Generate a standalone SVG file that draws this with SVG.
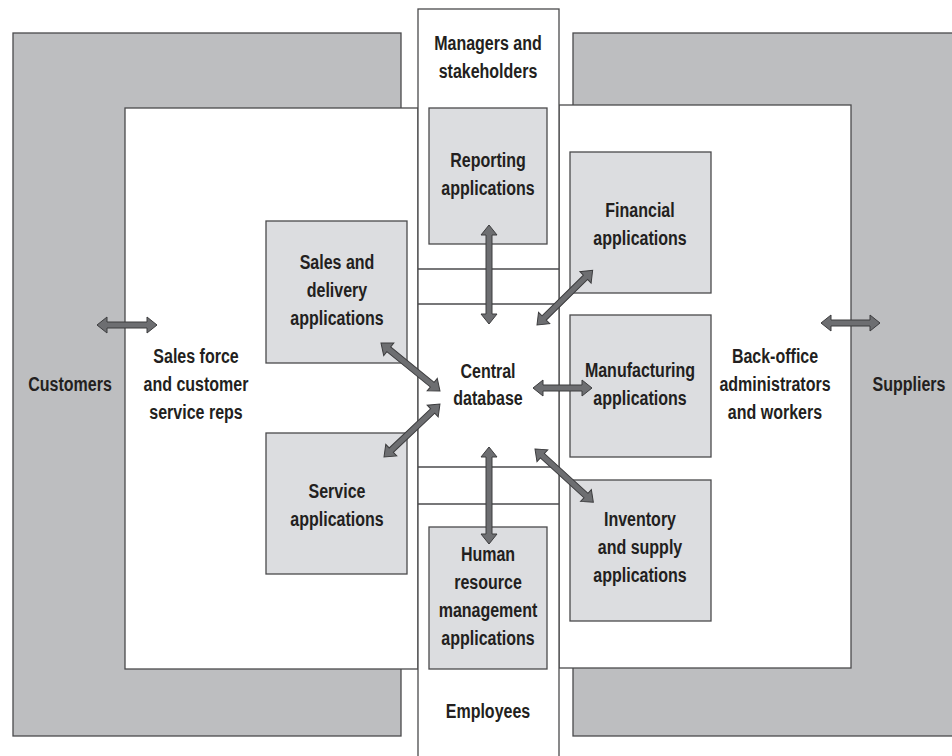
<svg xmlns="http://www.w3.org/2000/svg" width="952" height="756" viewBox="0 0 952 756">
<style>
.outer{fill:#bdbec0;stroke:#4a4a4c;stroke-width:1.3}
.zone{fill:#ffffff;stroke:#4a4a4c;stroke-width:1.3}
.app{fill:#dcdde0;stroke:#4a4a4c;stroke-width:1.3}
.sep{stroke:#4a4a4c;stroke-width:1.3;fill:none}
text{font-family:"Liberation Sans",Arial,sans-serif;font-weight:bold;font-size:20px;fill:#231f20;text-anchor:middle}
.arr{fill:#6d6e71;stroke:#3c3c3e;stroke-width:1;stroke-linejoin:miter}
</style>
<rect width="952" height="756" fill="#ffffff"/>
<g id="customers">
<rect class="outer" x="13" y="33" width="388" height="703"/>
<text transform="translate(70,391) scale(0.8,1)">Customers</text>
</g>
<g id="suppliers">
<rect class="outer" x="573" y="33" width="390" height="703"/>
<text transform="translate(909,391) scale(0.8,1)">Suppliers</text>
</g>
<g id="sales-force">
<rect class="zone" x="125" y="108" width="293" height="561"/>
<text transform="translate(196,363) scale(0.8,1)">Sales force</text>
<text transform="translate(196,391) scale(0.8,1)">and customer</text>
<text transform="translate(196,419) scale(0.8,1)">service reps</text>
</g>
<g id="back-office">
<rect class="zone" x="559" y="105" width="292" height="563"/>
<text transform="translate(775,363) scale(0.8,1)">Back-office</text>
<text transform="translate(775,391) scale(0.8,1)">administrators</text>
<text transform="translate(775,419) scale(0.8,1)">and workers</text>
</g>
<g id="center-column">
<rect class="zone" x="418" y="9" width="141" height="770"/>
<line class="sep" x1="418" y1="269" x2="559" y2="269"/>
<line class="sep" x1="418" y1="304" x2="559" y2="304"/>
<line class="sep" x1="418" y1="467" x2="559" y2="467"/>
<line class="sep" x1="418" y1="504" x2="559" y2="504"/>
<text transform="translate(488,50) scale(0.8,1)">Managers and</text>
<text transform="translate(488,78) scale(0.8,1)">stakeholders</text>
<text transform="translate(488,718) scale(0.8,1)">Employees</text>
</g>
<g id="central-database">
<text transform="translate(488,378) scale(0.8,1)">Central</text>
<text transform="translate(488,405) scale(0.8,1)">database</text>
</g>
<g id="reporting">
<rect class="app" x="429" y="108" width="118" height="136"/>
<text transform="translate(488,167) scale(0.8,1)">Reporting</text>
<text transform="translate(488,195) scale(0.8,1)">applications</text>
</g>
<g id="sales-delivery">
<rect class="app" x="266" y="221" width="141" height="142"/>
<text transform="translate(337,269) scale(0.8,1)">Sales and</text>
<text transform="translate(337,297) scale(0.8,1)">delivery</text>
<text transform="translate(337,325) scale(0.8,1)">applications</text>
</g>
<g id="service">
<rect class="app" x="266" y="433" width="141" height="141"/>
<text transform="translate(337,498) scale(0.8,1)">Service</text>
<text transform="translate(337,526) scale(0.8,1)">applications</text>
</g>
<g id="hr">
<rect class="app" x="429" y="527" width="118" height="142"/>
<text transform="translate(488,561) scale(0.8,1)">Human</text>
<text transform="translate(488,589) scale(0.8,1)">resource</text>
<text transform="translate(488,617) scale(0.8,1)">management</text>
<text transform="translate(488,645) scale(0.8,1)">applications</text>
</g>
<g id="financial">
<rect class="app" x="570" y="152" width="141" height="141"/>
<text transform="translate(640,217) scale(0.8,1)">Financial</text>
<text transform="translate(640,245) scale(0.8,1)">applications</text>
</g>
<g id="manufacturing">
<rect class="app" x="570" y="315" width="141" height="142"/>
<text transform="translate(640,377) scale(0.8,1)">Manufacturing</text>
<text transform="translate(640,405) scale(0.8,1)">applications</text>
</g>
<g id="inventory">
<rect class="app" x="570" y="480" width="141" height="141"/>
<text transform="translate(640,526) scale(0.8,1)">Inventory</text>
<text transform="translate(640,554) scale(0.8,1)">and supply</text>
<text transform="translate(640,582) scale(0.8,1)">applications</text>
</g>
<g id="connectors">
<path class="arr" transform="translate(97,325)" d="M0,0 L10,-8 L10,-3 L50,-3 L50,-8 L60,0 L50,8 L50,3 L10,3 L10,8 Z"/>
<path class="arr" transform="translate(821,323)" d="M0,0 L10,-8 L10,-3 L49,-3 L49,-8 L59,0 L49,8 L49,3 L10,3 L10,8 Z"/>
<path class="arr" transform="translate(489,225) rotate(90)" d="M0,0 L10,-8 L10,-3 L89,-3 L89,-8 L99,0 L89,8 L89,3 L10,3 L10,8 Z"/>
<path class="arr" transform="translate(537,325) rotate(-44.5)" d="M0,0 L10,-8 L10,-3 L68,-3 L68,-8 L78,0 L68,8 L68,3 L10,3 L10,8 Z"/>
<path class="arr" transform="translate(381,343) rotate(39.1)" d="M0,0 L10,-8 L10,-3 L66,-3 L66,-8 L76,0 L66,8 L66,3 L10,3 L10,8 Z"/>
<path class="arr" transform="translate(533,388)" d="M0,0 L10,-8 L10,-3 L49,-3 L49,-8 L59,0 L49,8 L49,3 L10,3 L10,8 Z"/>
<path class="arr" transform="translate(384,457) rotate(-43.4)" d="M0,0 L10,-8 L10,-3 L67,-3 L67,-8 L77,0 L67,8 L67,3 L10,3 L10,8 Z"/>
<path class="arr" transform="translate(489,447) rotate(90)" d="M0,0 L10,-8 L10,-3 L87,-3 L87,-8 L97,0 L87,8 L87,3 L10,3 L10,8 Z"/>
<path class="arr" transform="translate(535,449) rotate(42.4)" d="M0,0 L10,-8 L10,-3 L69,-3 L69,-8 L79,0 L69,8 L69,3 L10,3 L10,8 Z"/>
</g>
</svg>
